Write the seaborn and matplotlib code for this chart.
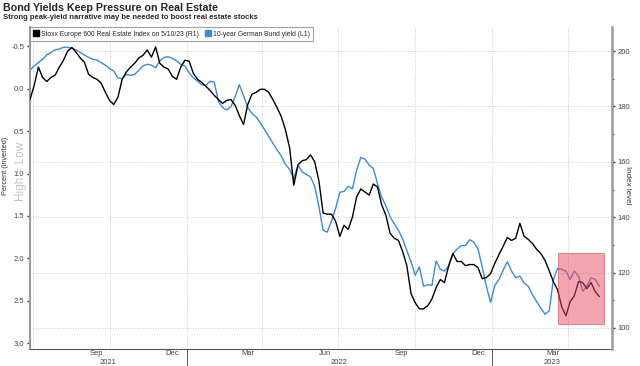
import matplotlib
matplotlib.use('Agg')
import matplotlib.pyplot as plt
import matplotlib.dates as mdates
from matplotlib.patches import Rectangle
from matplotlib.lines import Line2D
import pandas as pd
import seaborn as sns

# Stoxx Europe 600 Real Estate index level (right axis), every 5 days
stoxx = [182.5, 187.6, 194.2, 190.5, 189.0, 190.5, 191.3, 194.2, 196.7, 200.0,
         201.3, 199.6, 197.5, 196.0, 191.6, 190.5, 189.8, 188.4, 185.1, 182.2,
         180.7, 183.3, 189.8, 192.4, 194.2, 195.6, 197.5, 198.5, 200.4, 197.8,
         201.5, 195.6, 194.2, 193.5, 190.9, 189.8, 194.2, 196.7, 196.4, 192.0,
         189.8, 188.7, 187.3, 185.8, 184.0, 182.5, 181.1, 182.2, 182.5, 180.4,
         176.7, 173.5, 180.7, 184.4, 185.1, 186.2, 186.2, 185.1, 182.5, 179.6,
         176.4, 171.6, 165.1, 151.6, 158.9, 160.4, 160.8, 162.5, 160.0, 153.1,
         141.5, 141.1, 141.1, 138.5, 133.1, 137.1, 135.6, 140.0, 147.3, 150.2,
         149.1, 148.0, 152.0, 150.9, 144.4, 140.7, 134.2, 132.4, 131.6, 127.6,
         122.5, 112.4, 109.1, 106.9, 106.9, 108.0, 110.5, 114.6, 117.5, 116.4,
         122.5, 126.9, 124.0, 124.0, 122.5, 122.9, 122.9, 121.8, 117.8, 118.2,
         119.6, 123.3, 126.5, 129.5, 132.7, 131.6, 132.4, 137.8, 133.1, 132.0,
         130.5, 128.4, 126.9, 124.4, 120.7, 116.7, 113.8, 107.6, 104.4, 109.5,
         111.6, 116.7, 116.4, 114.2, 116.4, 113.1, 111.3]

# 10-year German Bund yield, % (left axis, inverted)
bund = [-0.22, -0.27, -0.31, -0.35, -0.40, -0.43, -0.46, -0.47, -0.49, -0.49,
        -0.48, -0.46, -0.43, -0.40, -0.37, -0.35, -0.34, -0.31, -0.28, -0.24,
        -0.21, -0.13, -0.12, -0.17, -0.16, -0.17, -0.22, -0.27, -0.29, -0.28,
        -0.25, -0.33, -0.37, -0.38, -0.36, -0.33, -0.29, -0.27, -0.19, -0.13,
        -0.09, -0.05, -0.04, -0.09, -0.08, 0.15, 0.22, 0.25, 0.21, 0.09,
        -0.05, 0.08, 0.22, 0.29, 0.33, 0.40, 0.48, 0.56, 0.64, 0.72,
        0.79, 0.89, 0.95, 1.06, 0.90, 0.98, 1.01, 1.04, 1.15, 1.39,
        1.67, 1.69, 1.56, 1.41, 1.22, 1.21, 1.15, 1.18, 0.96, 0.81,
        0.83, 0.90, 0.94, 1.12, 1.28, 1.38, 1.51, 1.59, 1.67, 1.77,
        1.91, 2.04, 2.20, 2.10, 2.33, 2.31, 2.32, 2.03, 2.13, 2.15,
        2.09, 1.95, 1.89, 1.85, 1.85, 1.78, 1.81, 1.89, 2.10, 2.33,
        2.52, 2.32, 2.25, 2.14, 2.04, 2.15, 2.23, 2.21, 2.29, 2.33,
        2.43, 2.51, 2.59, 2.66, 2.62, 2.25, 2.12, 2.13, 2.15, 2.25,
        2.15, 2.21, 2.39, 2.33, 2.23, 2.25, 2.33]

dates = pd.date_range('2021-06-28', periods=len(stoxx), freq='5D')
month_labels = ['Sep', 'Dec', 'Mar', 'Jun', 'Sep', 'Dec', 'Mar']
month_pos = pd.to_datetime(['2021-09-15', '2021-12-15', '2022-03-15', '2022-06-15',
                            '2022-09-15', '2022-12-15', '2023-03-15'])
years = ['2021', '2022', '2023']

df = pd.DataFrame({'date': dates, 'stoxx': stoxx, 'bund': bund})

sns.set_style('white')
plt.rcParams['font.family'] = ['Liberation Sans', 'DejaVu Sans']

fig = plt.figure(figsize=(6.4, 3.66), dpi=100)
ax = fig.add_axes([30 / 640, 1 - 349 / 366, 582 / 640, 322 / 366])
ax2 = ax.twinx()

blue = '#3b8ad6'
sns.lineplot(data=df, x='date', y='bund', ax=ax, color=blue, lw=1.0)
sns.lineplot(data=df, x='date', y='stoxx', ax=ax2, color='black', lw=1.0)

x0, x1 = pd.Timestamp('2021-06-28'), pd.Timestamp('2023-05-24')
ax.set_xlim(x0, x1)
ax.set_ylim(3.07, -0.73)
ax2.set_ylim(92.4, 208.7)

# highlight box over the latest weeks
r0 = mdates.date2num(pd.Timestamp('2023-03-21'))
r1 = mdates.date2num(pd.Timestamp('2023-05-15'))
ax2.add_patch(Rectangle((r0, 101.5), r1 - r0, 25.4, facecolor=(0.93, 0.3, 0.38),
                        alpha=0.5, edgecolor='#c83c50', lw=0.8, zorder=5))

# ticks
ax.set_yticks([-0.5, 0.0, 0.5, 1.0, 1.5, 2.0, 2.5, 3.0])
ax.set_yticklabels(['-0.5', '0.0', '0.5', '1.0', '1.5', '2.0', '2.5', '3.0'])
ax2.set_yticks([100, 120, 140, 160, 180, 200])
ax2.set_yticks([110, 130, 150, 170, 190], minor=True)
ax.xaxis.set_major_locator(mdates.MonthLocator(bymonth=[1, 4, 7, 10]))
ax.xaxis.set_minor_locator(mdates.MonthLocator())
ax.xaxis.set_major_formatter(plt.NullFormatter())
ax.tick_params(axis='y', labelsize=5.5, labelcolor='#444444', length=2.5, width=1,
               color='#333333', pad=1.5)
ax2.tick_params(axis='y', which='both', labelsize=5.5, labelcolor='#444444',
                length=2.5, width=1, color='#333333', pad=1.5)
ax2.tick_params(axis='y', which='minor', length=1.5, width=0.8)
ax.tick_params(axis='x', which='both', length=2, width=0.8, color='#555555')

ax.set_xlabel('')
ax.set_ylabel('')
ax2.set_ylabel('')

# grid
grid_kw = dict(color='#b8b8b8', lw=0.6, linestyle=(0, (1, 2)))
ax.grid(axis='x', which='major', **grid_kw)
ax2.grid(axis='y', which='major', **grid_kw)
ax.grid(axis='y', visible=False)

for s in ['top', 'right']:
    ax.spines[s].set_visible(False)
for s in ['top', 'left', 'bottom']:
    ax2.spines[s].set_visible(False)
ax.spines['left'].set_color('#9a9a9a')
ax.spines['left'].set_linewidth(1.5)
ax2.spines['right'].set_color('#9a9a9a')
ax2.spines['right'].set_linewidth(1.8)
ax.spines['bottom'].set_color('#555555')
ax.spines['bottom'].set_linewidth(0.8)

# month and year labels
trans = ax.get_xaxis_transform()
for d, lab in zip(month_pos, month_labels):
    ax.text(d, -0.013, lab, transform=trans, ha='center', va='center',
            fontsize=5.5, color='#444444')
bounds = [x0, pd.Timestamp('2022-01-01'), pd.Timestamp('2023-01-01'), x1]
for i, yr in enumerate(years):
    mid = bounds[i] + (bounds[i + 1] - bounds[i]) / 2
    ax.text(mid, -0.041, yr, transform=trans, ha='center', va='center',
            fontsize=5.5, color='#444444')
for b in bounds[1:3]:
    ax.axvline(b, ymin=-0.06, ymax=0, color='#555555', lw=0.7, clip_on=False)

# legend
handles = [Line2D([], [], marker='s', color='black', lw=0, markersize=4.5),
           Line2D([], [], marker='s', color=blue, lw=0, markersize=4.5)]
labels = ['Stoxx Europe 600 Real Estate Index on 5/10/23 (R1)',
          '10-year German Bund yield (L1)']
leg = ax2.legend(handles, labels, loc='upper left', bbox_to_anchor=(0, 1),
                 borderaxespad=0, ncol=2, fontsize=4.9, handlelength=0.7,
                 handletextpad=0.35, columnspacing=1.0, frameon=True,
                 fancybox=False, borderpad=0.55)
leg.get_frame().set_edgecolor('#8a8a8a')
leg.get_frame().set_linewidth(0.8)
leg.set_zorder(10)

# titles and side labels
fig.text(0.004, 1 - 8 / 366, 'Bond Yields Keep Pressure on Real Estate',
         fontsize=7.7, fontweight='bold', va='center', ha='left')
fig.text(0.004, 1 - 17.5 / 366,
         'Strong peak-yield narrative may be needed to boost real estate stocks',
         fontsize=5.5, fontweight='bold', va='center', ha='left')
fig.text(6 / 640, 1 - 166 / 366, 'Percent (inverted)', rotation=90, fontsize=5.3,
         color='#333333', ha='center', va='center')
fig.text(21 / 640, 1 - 171 / 366, 'High = Low', rotation=90, fontsize=8.5,
         color='#c4c4c4', ha='center', va='center')
fig.text(628 / 640, 1 - 185 / 366, 'Index level', rotation=270, fontsize=5.8,
         color='#333333', ha='center', va='center')

fig.savefig('out.png', dpi=100)
